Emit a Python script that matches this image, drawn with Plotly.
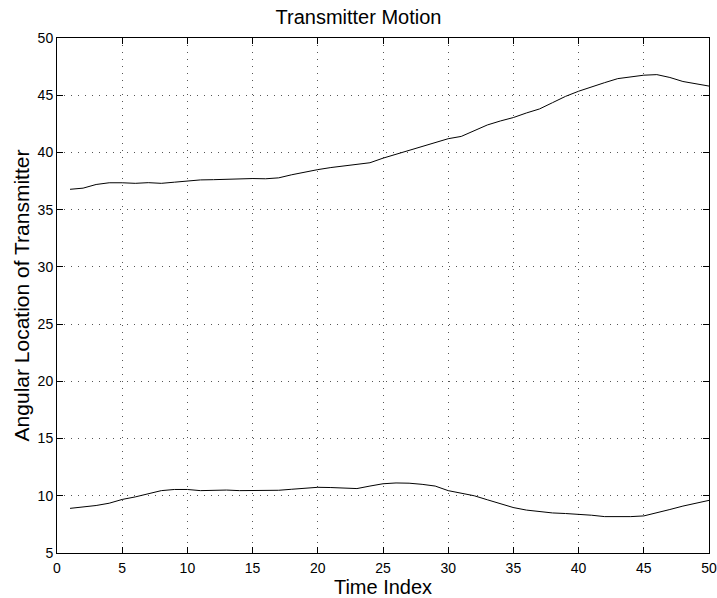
import plotly.graph_objects as go

time_index = list(range(1, 51))
upper_track = [36.78, 36.88, 37.2, 37.35, 37.35, 37.3, 37.36, 37.3, 37.4, 37.5,
               37.6, 37.62, 37.65, 37.72, 37.72, 37.7, 37.78, 38.05, 38.3, 38.5,
               38.68, 38.82, 38.97, 39.1, 39.5, 39.85, 40.2, 40.55, 40.85, 41.2,
               41.4, 41.9, 42.4, 42.75, 43.05, 43.45, 43.8, 44.35, 44.9, 45.35,
               45.75, 46.1, 46.45, 46.6, 46.75, 46.8, 46.55, 46.2, 46.0, 45.8]
lower_track = [8.9, 9.0, 9.15, 9.35, 9.68, 9.9, 10.2, 10.45, 10.55, 10.55,
               10.45, 10.5, 10.5, 10.45, 10.45, 10.42, 10.48, 10.57, 10.68, 10.74,
               10.72, 10.66, 10.63, 10.85, 11.05, 11.12, 11.1, 11.0, 10.85, 10.45,
               10.2, 10.0, 9.65, 9.3, 8.97, 8.75, 8.6, 8.5, 8.45, 8.39,
               8.3, 8.18, 8.15, 8.18, 8.24, 8.5, 8.8, 9.1, 9.35, 9.6]
x_ticks = list(range(0, 51, 5))
y_ticks = list(range(5, 51, 5))

fig = go.Figure()
for ys in (upper_track, lower_track):
    fig.add_trace(go.Scatter(x=time_index, y=ys, mode="lines",
                             line=dict(color="black", width=1), showlegend=False))

font = "Liberation Sans, Arial, Helvetica, sans-serif"
axis_common = dict(showline=True, linecolor="black", linewidth=1, mirror="ticks",
                   ticks="inside", ticklen=6, tickcolor="black", automargin=False,
                   showgrid=True, gridcolor="#555555", griddash="1px,6px", gridwidth=1,
                   zeroline=False, tickfont=dict(size=14, color="black", family=font))
fig.update_xaxes(range=[0, 50], tickvals=x_ticks, ticklabelstandoff=2,
                 title=dict(text="Time Index", font=dict(size=20, color="black", family=font), standoff=0),
                 **axis_common)
fig.update_yaxes(range=[5, 50], tickvals=y_ticks,
                 title=dict(text="Angular Location of Transmitter", font=dict(size=21, color="black", family=font), standoff=2),
                 **axis_common)
fig.update_layout(
    width=717, height=598,
    margin=dict(l=57, r=8, t=38, b=45),
    plot_bgcolor="white", paper_bgcolor="white",
    title=dict(text="Transmitter Motion", x=0.5, xanchor="center", y=0.9716, yanchor="middle",
               font=dict(size=20, color="black", family=font)),
)
fig.write_html("out.html", config={"displayModeBar": False},
               post_script="document.body.style.margin='0px';document.body.style.padding='0px';")
